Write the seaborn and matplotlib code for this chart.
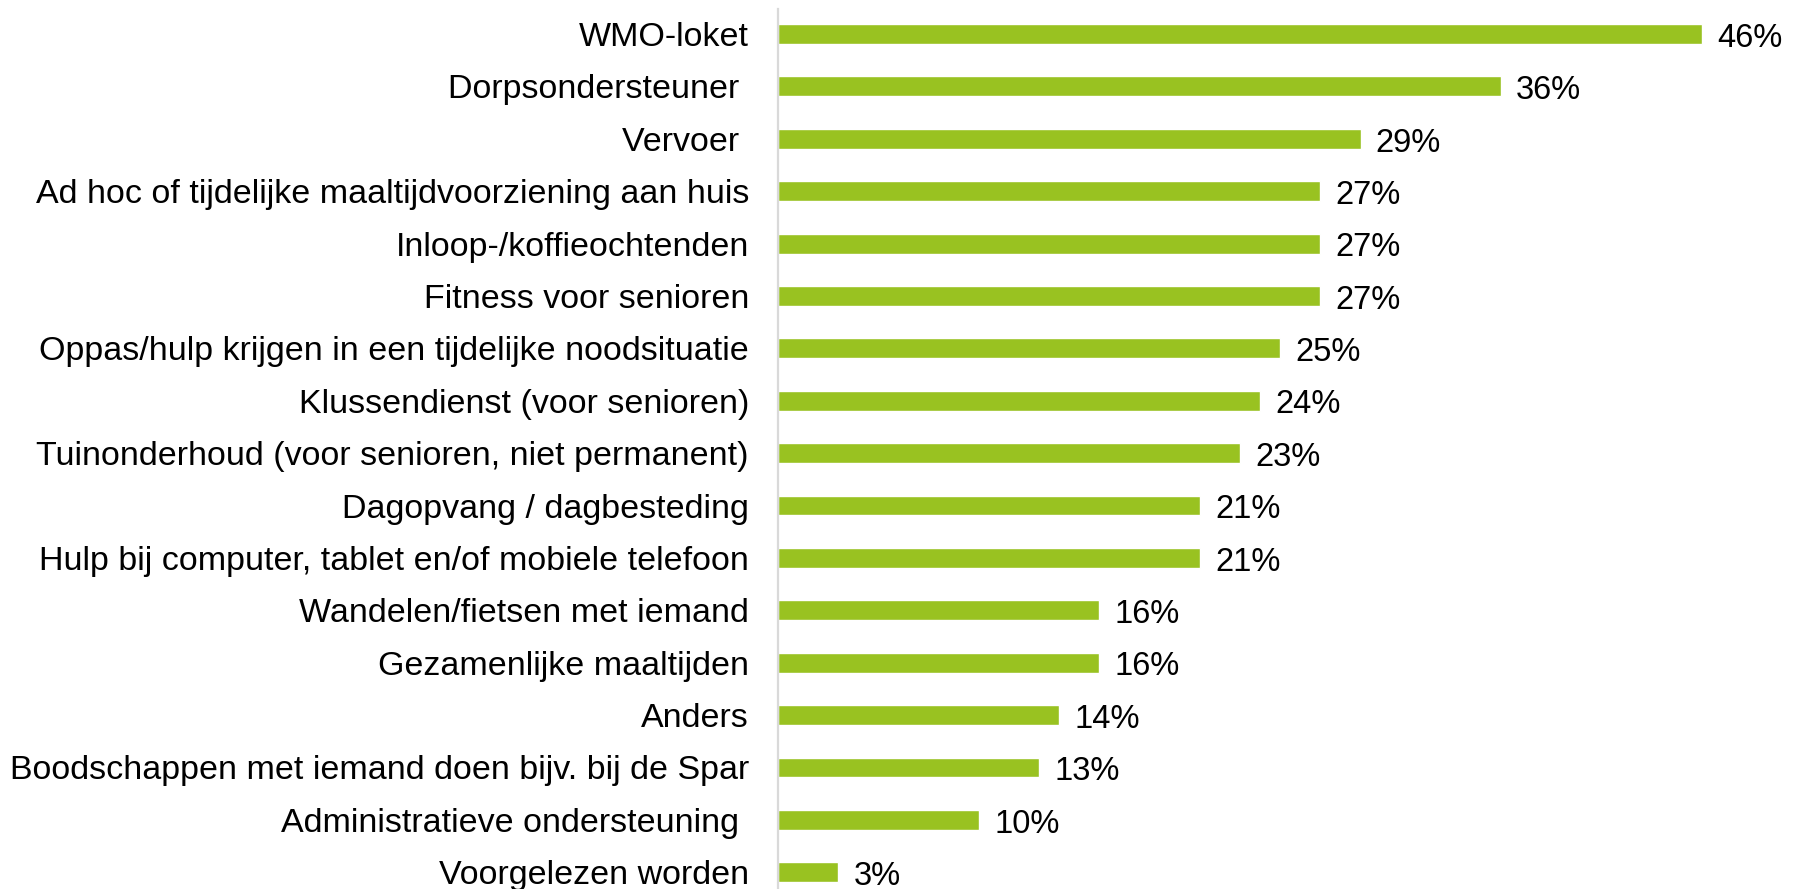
import pandas as pd
import matplotlib
matplotlib.use("Agg")
import matplotlib.pyplot as plt
import seaborn as sns

# === Data ===
categories = [
    "WMO-loket",
    "Dorpsondersteuner ",
    "Vervoer ",
    "Ad hoc of tijdelijke maaltijdvoorziening aan huis",
    "Inloop-/koffieochtenden",
    "Fitness voor senioren",
    "Oppas/hulp krijgen in een tijdelijke noodsituatie",
    "Klussendienst (voor senioren)",
    "Tuinonderhoud (voor senioren, niet permanent)",
    "Dagopvang / dagbesteding",
    "Hulp bij computer, tablet en/of mobiele telefoon",
    "Wandelen/fietsen met iemand",
    "Gezamenlijke maaltijden",
    "Anders",
    "Boodschappen met iemand doen bijv. bij de Spar",
    "Administratieve ondersteuning ",
    "Voorgelezen worden",
]
percentages = [46, 36, 29, 27, 27, 27, 25, 24, 23, 21, 21, 16, 16, 14, 13, 10, 3]

df = pd.DataFrame({"Categorie": categories, "Percentage": percentages})

# === Plot ===
sns.set_style("white")
plt.rcParams["font.family"] = ["Liberation Sans", "DejaVu Sans"]
plt.rcParams["text.color"] = "black"
plt.rcParams["ytick.color"] = "black"

fig = plt.figure(figsize=(17.93, 8.89), dpi=100)
ax = fig.add_axes([0.434, 0.0, 0.56, 0.99])

sns.barplot(data=df, x="Percentage", y="Categorie", color="#99C221",
            width=0.38, saturation=1, ax=ax)

for i, v in enumerate(percentages):
    ax.text(v + 0.75, i + 0.08, f"{v}%", va="center", ha="left",
            fontsize=23.5, color="black")

ax.set_xlim(0, 50)
ax.set_ylim(16.32, -0.48)
ax.set_xlabel("")
ax.set_ylabel("")
ax.set_xticks([])
ax.tick_params(axis="y", length=0, pad=21, labelsize=24.5, labelcolor="black")

for side in ["top", "right", "bottom"]:
    ax.spines[side].set_visible(False)
ax.spines["left"].set_color("#D9D9D9")
ax.spines["left"].set_linewidth(1.6)

plt.savefig("out.png", dpi=100)
